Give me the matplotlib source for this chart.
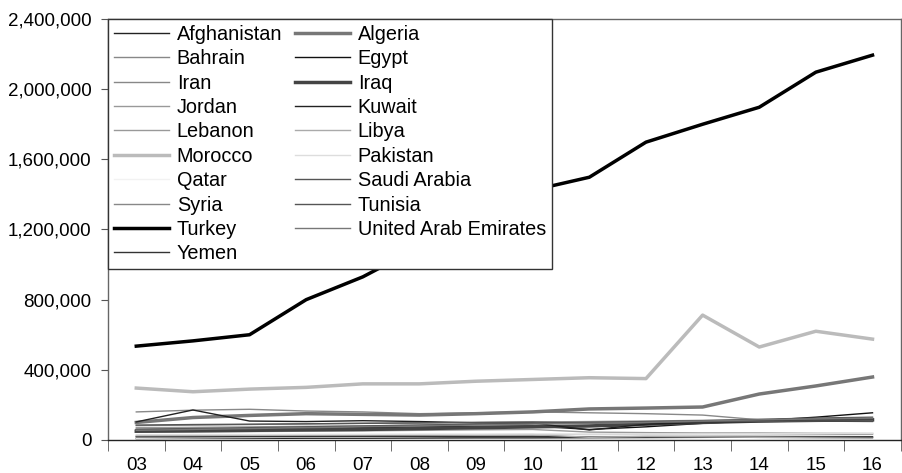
import matplotlib
matplotlib.use("Agg")
from matplotlib import pyplot as plt
from matplotlib.ticker import FuncFormatter
import numpy as np

plt.rcParams['font.family'] = ['Liberation Sans', 'DejaVu Sans']

years = ["03", "04", "05", "06", "07", "08", "09", "10", "11", "12", "13", "14", "15", "16"]

# values (the crowded bottom lines are approximate)
afghanistan = [8000, 9000, 9000, 10000, 10000, 11000, 12000, 12000, 13000, 14000, 15000, 16000, 17000, 18000]
algeria = [100000, 128000, 140000, 150000, 146000, 142000, 150000, 160000, 177000, 182000, 188000, 262000, 308000, 359000]
bahrain = [20000, 22000, 23000, 24000, 25000, 26000, 27000, 28000, 27000, 28000, 29000, 30000, 31000, 32000]
egypt = [60000, 62000, 64000, 66000, 70000, 74000, 78000, 80000, 60000, 75000, 95000, 110000, 130000, 155000]
iran = [82000, 85000, 88000, 92000, 95000, 98000, 100000, 103000, 105000, 108000, 112000, 115000, 118000, 120000]
iraq = [50000, 52000, 55000, 58000, 60000, 65000, 70000, 75000, 80000, 90000, 100000, 108000, 112000, 115000]
jordan = [45000, 47000, 48000, 50000, 52000, 55000, 58000, 60000, 45000, 42000, 40000, 40000, 38000, 38000]
kuwait = [103000, 171000, 108000, 105000, 110000, 105000, 98000, 97000, 57000, 90000, 100000, 105000, 108000, 110000]
lebanon = [70000, 72000, 75000, 78000, 80000, 85000, 90000, 95000, 98000, 100000, 103000, 106000, 108000, 110000]
libya = [25000, 26000, 27000, 28000, 29000, 30000, 30000, 31000, 15000, 20000, 18000, 15000, 12000, 10000]
morocco = [296000, 275000, 290000, 300000, 320000, 320000, 335000, 345000, 355000, 350000, 712000, 530000, 620000, 575000]
pakistan = [30000, 31000, 31000, 32000, 32000, 33000, 33000, 34000, 34000, 35000, 35000, 35000, 36000, 36000]
qatar = [10000, 12000, 14000, 16000, 18000, 20000, 22000, 24000, 26000, 28000, 30000, 33000, 36000, 40000]
saudi = [60000, 65000, 70000, 75000, 80000, 85000, 90000, 95000, 100000, 105000, 110000, 118000, 125000, 130000]
syria = [160000, 170000, 175000, 165000, 160000, 150000, 155000, 160000, 155000, 150000, 142000, 115000, 108000, 105000]
tunisia = [85000, 88000, 90000, 92000, 95000, 97000, 100000, 102000, 95000, 100000, 104000, 106000, 108000, 110000]
turkey = [535000, 565000, 600000, 800000, 930000, 1100000, 1250000, 1424000, 1498000, 1698000, 1800000, 1897000, 2097000, 2194000]
uae = [55000, 60000, 65000, 70000, 75000, 80000, 85000, 90000, 95000, 100000, 108000, 115000, 120000, 125000]
yemen = [18000, 18000, 19000, 19000, 20000, 20000, 20000, 21000, 17000, 16000, 16000, 15000, 15000, 15000]

# name, data, colour, width  (order = legend order, column by column)
series = [
    ("Afghanistan", afghanistan, "#222222", 1.0),
    ("Bahrain", bahrain, "#888888", 1.0),
    ("Iran", iran, "#888888", 1.0),
    ("Jordan", jordan, "#999999", 1.0),
    ("Lebanon", lebanon, "#999999", 1.0),
    ("Morocco", morocco, "#bbbbbb", 2.5),
    ("Qatar", qatar, "#f2f2f2", 1.0),
    ("Syria", syria, "#888888", 1.0),
    ("Turkey", turkey, "#000000", 2.5),
    ("Yemen", yemen, "#333333", 1.0),
    ("Algeria", algeria, "#777777", 2.5),
    ("Egypt", egypt, "#111111", 1.0),
    ("Iraq", iraq, "#444444", 2.5),
    ("Kuwait", kuwait, "#222222", 1.0),
    ("Libya", libya, "#aaaaaa", 1.0),
    ("Pakistan", pakistan, "#dddddd", 1.0),
    ("Saudi Arabia", saudi, "#555555", 1.0),
    ("Tunisia", tunisia, "#555555", 1.0),
    ("United Arab Emirates", uae, "#777777", 1.0),
]

fig = plt.figure(figsize=(9.02, 4.73), dpi=100)
ax = fig.add_axes([0.1197, 0.0698, 0.879, 0.89])

x = np.arange(len(years))
for name, vals, col, lw in series:
    ax.plot(x, vals, color=col, lw=lw, label=name)

ax.set_xlim(-0.5, len(years) - 0.5)
ax.set_ylim(0, 2400000)
ax.set_yticks(np.arange(0, 2400001, 400000))
ax.yaxis.set_major_formatter(FuncFormatter(lambda v, p: f"{int(v):,}"))

# labels in the middle of each year, tick marks on the boundaries
ax.set_xticks(x)
ax.set_xticklabels(years)
ax.set_xticks(np.arange(-0.5, len(years)), minor=True)
ax.tick_params(axis="x", which="major", length=0, pad=12, labelsize=13.5)
ax.tick_params(axis="x", which="minor", length=8, color="#555555", direction="out")
ax.tick_params(axis="y", length=5, color="#555555", labelsize=13.5, pad=7)

for s in ax.spines.values():
    s.set_color("#666666")
    s.set_linewidth(1.0)
ax.spines["bottom"].set_color("#222222")

leg = ax.legend(ncol=2, loc="upper left", bbox_to_anchor=(0, 1), borderaxespad=0,
                fontsize=14.3, frameon=True, fancybox=False, edgecolor="#333333",
                framealpha=1, handlelength=2.76, handletextpad=0.4, columnspacing=0.65,
                labelspacing=0.27, borderpad=0.3)
leg.get_frame().set_linewidth(1.0)

fig.savefig("out.png", dpi=100)
